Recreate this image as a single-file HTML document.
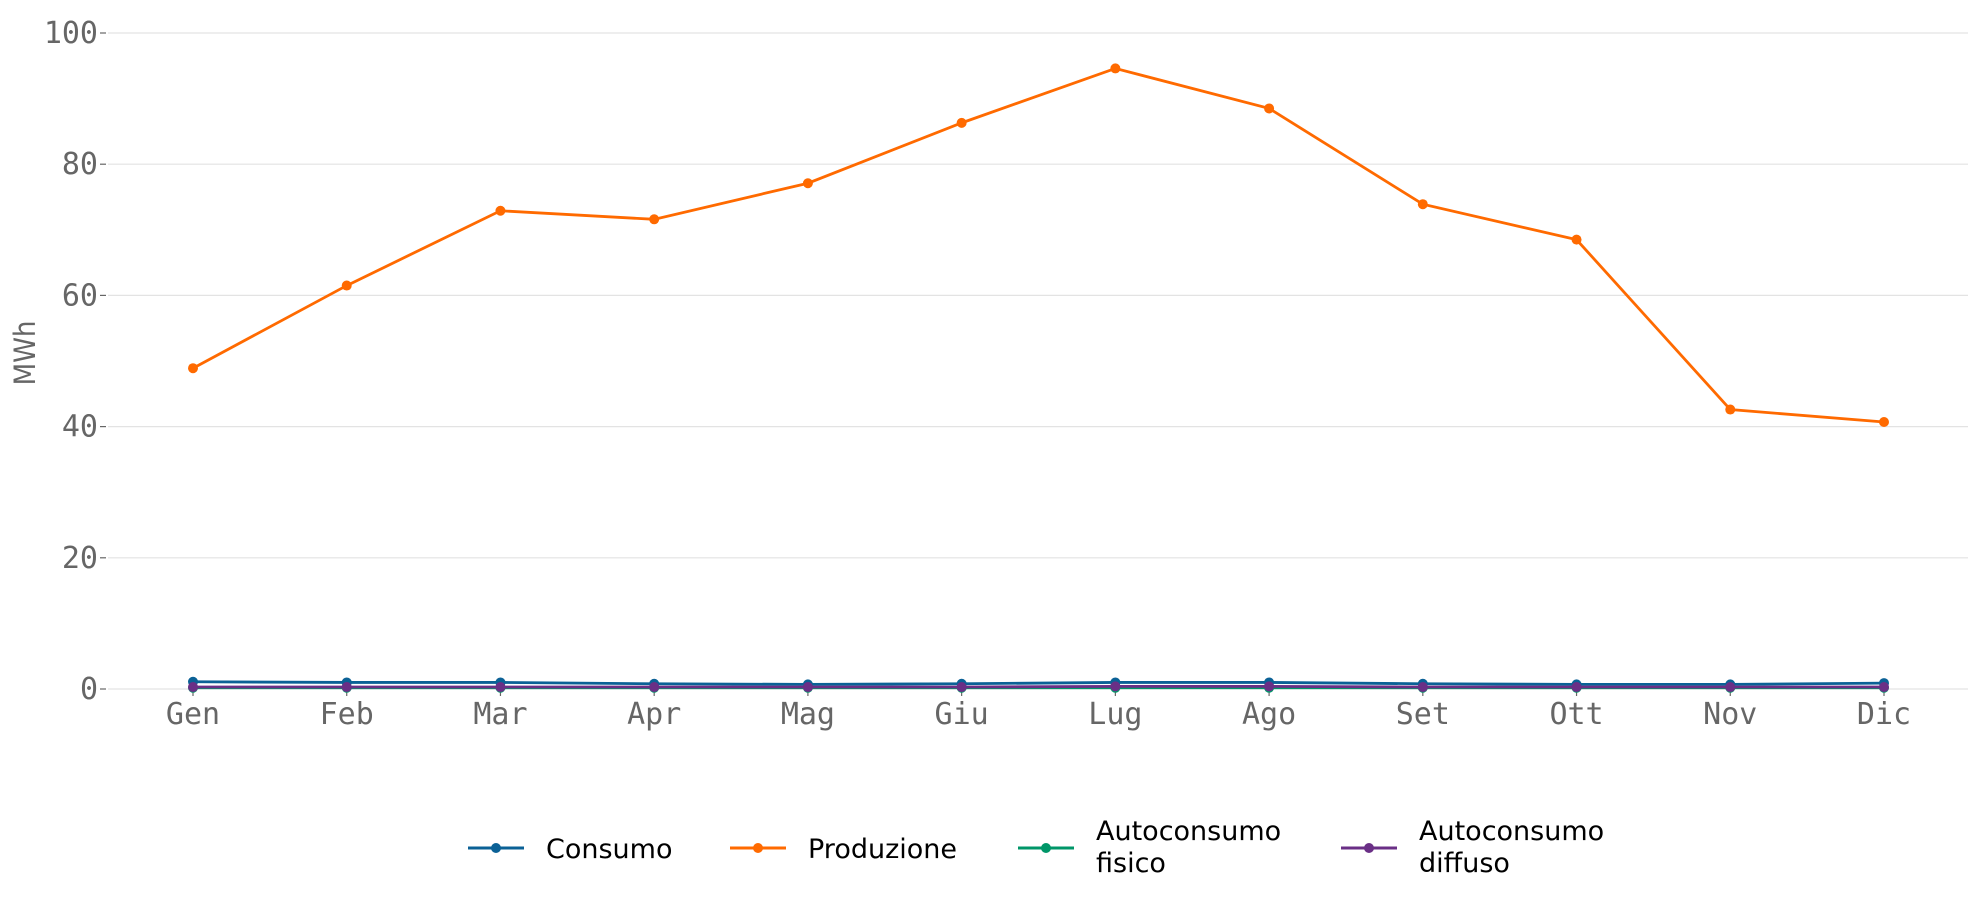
<!DOCTYPE html>
<html><head><meta charset="utf-8"><style>
html,body{margin:0;padding:0;background:#fff;width:1978px;height:898px;overflow:hidden}
svg text{font-family:"DejaVu Sans Mono","Liberation Mono",monospace}
</style></head><body>
<svg id="chart" width="1978" height="898" xmlns="http://www.w3.org/2000/svg">
<g id="grid"></g>
<g id="yaxis"></g>
<g id="xaxis"></g>
<text transform="translate(35,353) rotate(-90)" text-anchor="middle" font-size="29" fill="#666" style="font-family:'Liberation Sans Narrow','DejaVu Sans Condensed',sans-serif">MWh</text>
<g id="series"></g>
<g id="legend"></g>
</svg>
<script>
const months=["Gen","Feb","Mar","Apr","Mag","Giu","Lug","Ago","Set","Ott","Nov","Dic"];
const yTicks=[0,20,40,60,80,100];
const consumo=[1.1,1.0,1.0,0.8,0.7,0.8,1.0,1.0,0.8,0.7,0.7,0.9];
const produzione=[48.9,61.5,72.9,71.6,77.1,86.3,94.6,88.5,73.9,68.5,42.6,40.7];
const autoFisico=[0.2,0.2,0.2,0.2,0.2,0.2,0.2,0.2,0.2,0.2,0.2,0.2];
const autoDiffuso=[0.3,0.3,0.3,0.3,0.3,0.3,0.4,0.4,0.3,0.3,0.3,0.3];
const NS="http://www.w3.org/2000/svg";
function x(i){return 193+i*(1884-193)/11;}
function y(v){return 689-v*(689-33)/100;}
function mk(tag,attrs,parent){const e=document.createElementNS(NS,tag);for(const k in attrs)e.setAttribute(k,attrs[k]);parent.appendChild(e);return e;}
const grid=document.getElementById('grid'),ya=document.getElementById('yaxis'),xa=document.getElementById('xaxis'),sg=document.getElementById('series'),lg=document.getElementById('legend');
yTicks.forEach(t=>{
  const gl=mk('line',{x1:108,x2:1968,y1:y(t),y2:y(t),stroke:'#e3e3e3','stroke-width':1.2},grid);
  
  
  const tk=mk('line',{x1:100,x2:106,y1:y(t),y2:y(t),stroke:'#666','stroke-width':1.2},ya);
  
  
  const tx=mk('text',{x:98,y:y(t)+10,'text-anchor':'end','font-size':30,fill:'#666'},ya);
  tx.textContent=t;
  
  
});
months.forEach((m,i)=>{
  const tk=mk('line',{x1:x(i),x2:x(i),y1:690,y2:696,stroke:'#666','stroke-width':1.2},xa);
  
  
  const tx=mk('text',{x:x(i),y:724,'text-anchor':'middle','font-size':30,fill:'#666'},xa);
  tx.textContent=m;
  
  
});
const series=[
  {name:'consumo',data:consumo,color:'#0b6196'},
  {name:'produzione',data:produzione,color:'#ff6a00'},
  {name:'autoconsumo-fisico',data:autoFisico,color:'#009668'},
  {name:'autoconsumo-diffuso',data:autoDiffuso,color:'#6a2f86'}
];
[1,0,2,3].forEach(si=>{
  const s=series[si];
  const g=mk('g',{},sg);
  
  
  const pl=mk('polyline',{points:s.data.map((v,i)=>x(i)+','+y(v)).join(' '),fill:'none',stroke:s.color,'stroke-width':2.8},g);
  
  
  s.data.forEach((v,i)=>{
    const c=mk('circle',{cx:x(i),cy:y(v),r:5,fill:s.color},g);
    
    
  });
});
const legendItems=[
  {s:0,x:468,lines:['Consumo']},
  {s:1,x:730,lines:['Produzione']},
  {s:2,x:1018,lines:['Autoconsumo','fisico']},
  {s:3,x:1341,lines:['Autoconsumo','diffuso']}
];
legendItems.forEach(it=>{
  const s=series[it.s];
  const g=mk('g',{},lg);
  
  
  mk('line',{x1:it.x,x2:it.x+56,y1:848,y2:848,stroke:s.color,'stroke-width':3},g);
  mk('circle',{cx:it.x+28,cy:848,r:5,fill:s.color},g);
  const t=mk('text',{x:it.x+78,'font-size':27,fill:'#000',style:'font-family:"DejaVu Sans","Liberation Sans",sans-serif'},g);
  if(it.lines.length===1){t.setAttribute('y',858);t.textContent=it.lines[0];}
  else{
    it.lines.forEach((l,k)=>{const ts=mk('tspan',{x:it.x+78,y:840+k*32},t);ts.textContent=l;});
  }
  
  
});
</script>
</body></html>
